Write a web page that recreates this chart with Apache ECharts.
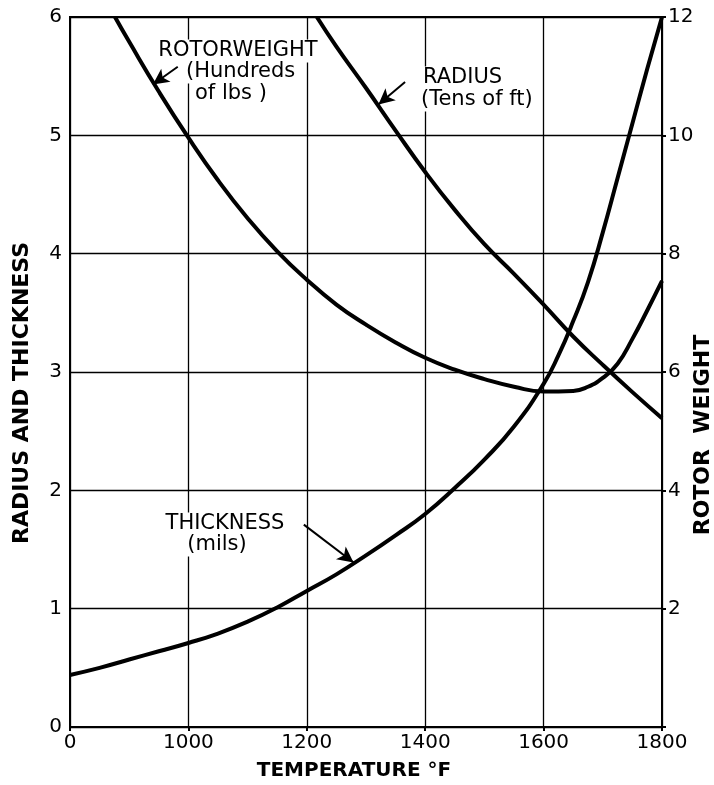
<!DOCTYPE html>
<html>
<head>
<meta charset="utf-8">
<script src="https://cdn.jsdelivr.net/npm/echarts@6/dist/echarts.min.js"></script>
<style>html,body{margin:0;padding:0;background:#fff}#c{width:714px;height:785px}</style>
</head>
<body>
<div id="c"></div>
<script>
// Temperature (°F) grid and tick labels
const xTickLabels = ['0', '1000', '1200', '1400', '1600', '1800'];
const leftTickLabels = ['0', '1', '2', '3', '4', '5', '6'];
const rightTickLabels = ['', '2', '4', '6', '8', '10', '12'];

// Thickness (mils) — left axis
const thickT = [800, 850, 900, 950, 1000, 1050, 1100, 1150, 1200, 1250, 1300, 1350, 1400, 1450, 1500, 1550, 1600, 1625, 1650, 1675, 1700, 1725, 1750, 1775, 1800];
const thickV = [0.44, 0.50, 0.57, 0.64, 0.71, 0.79, 0.89, 1.01, 1.15, 1.29, 1.45, 1.62, 1.80, 2.02, 2.26, 2.54, 2.90, 3.14, 3.43, 3.76, 4.18, 4.64, 5.10, 5.56, 6.00];

// Rotor weight (hundreds of lbs) — right axis
const rotorT = [876, 900, 950, 1000, 1050, 1100, 1150, 1200, 1250, 1300, 1350, 1400, 1450, 1500, 1550, 1600, 1650, 1675, 1700, 1725, 1750, 1775, 1800];
const rotorV = [12.0, 11.58, 10.74, 9.96, 9.24, 8.60, 8.04, 7.56, 7.14, 6.80, 6.50, 6.24, 6.04, 5.88, 5.75, 5.67, 5.68, 5.75, 5.90, 6.14, 6.56, 7.04, 7.54];

// Radius (tens of ft) — left axis
const radT = [1217, 1250, 1300, 1350, 1400, 1450, 1500, 1550, 1600, 1650, 1700, 1750, 1800];
const radV = [6.00, 5.75, 5.40, 5.04, 4.69, 4.37, 4.08, 3.83, 3.57, 3.30, 3.06, 2.83, 2.61];

// Annotation arrows: [tailT, tailV, tipT, tipV]
const rotorArrow = [982, 11.16, 940, 10.86];
const radArrow = [1366, 5.45, 1321, 5.26];
const thickArrow = [1195, 1.71, 1279, 1.39];

const zip = (a, b) => a.map((t, i) => [t, b[i]]);
const FONT = 'DejaVu Sans';

function arrowMark(a) {
  return {
    silent: true,
    symbol: ['none', 'arrow'],
    symbolSize: [12, 16],
    label: { show: false },
    lineStyle: { color: '#000', width: 2, type: 'solid' },
    itemStyle: { color: '#000' },
    emphasis: { disabled: true },
    data: [[{ coord: [a[0], a[1]] }, { coord: [a[2], a[3]] }]]
  };
}

const lineBase = {
  type: 'line',
  smooth: true,
  showSymbol: false,
  symbol: 'none',
  lineStyle: { color: '#000', width: 4 },
  z: 5
};

function label(text, x, y, size, align) {
  return {
    type: 'text', x: x, y: y, z: 20,
    style: {
      text: text, fill: '#000', font: 'normal ' + size + 'px "' + FONT + '"',
      textAlign: align || 'center', textVerticalAlign: 'middle',
      backgroundColor: '#fff', padding: [1, 3]
    }
  };
}

const chart = echarts.init(document.getElementById('c'), null, { renderer: 'canvas' });
chart.setOption({
  animation: false,
  backgroundColor: '#fff',
  grid: { left: 70, right: 52, top: 17, bottom: 58, show: true, borderColor: '#000', borderWidth: 2, backgroundColor: 'transparent' },
  xAxis: {
    type: 'value', min: 800, max: 1800, interval: 200,
    axisLine: { show: true, lineStyle: { color: '#000', width: 2 } },
    axisTick: { show: true, length: 4, lineStyle: { color: '#000', width: 2 } },
    splitLine: { show: true, lineStyle: { color: '#000', width: 1.3 } },
    axisLabel: {
      color: '#000', fontFamily: FONT, fontSize: 20, margin: 6,
      formatter: v => xTickLabels[Math.round((v - 800) / 200)]
    }
  },
  yAxis: [
    {
      type: 'value', min: 0, max: 6, interval: 1, position: 'left',
      axisLine: { show: true, lineStyle: { color: '#000', width: 2 } },
      axisTick: { show: false },
      splitLine: { show: true, lineStyle: { color: '#000', width: 1.3 } },
      axisLabel: { color: '#000', fontFamily: FONT, fontSize: 20, margin: 8, formatter: v => leftTickLabels[Math.round(v)] }
    },
    {
      type: 'value', min: 0, max: 12, interval: 2, position: 'right',
      axisLine: { show: true, lineStyle: { color: '#000', width: 2 } },
      axisTick: { show: true, length: 4, lineStyle: { color: '#000', width: 2 } },
      splitLine: { show: false },
      axisLabel: { color: '#000', fontFamily: FONT, fontSize: 20, margin: 6, formatter: v => rightTickLabels[Math.round(v / 2)] }
    }
  ],
  series: [
    Object.assign({}, lineBase, { name: 'THICKNESS', yAxisIndex: 0, data: zip(thickT, thickV), markLine: arrowMark(thickArrow) }),
    Object.assign({}, lineBase, { name: 'ROTORWEIGHT', yAxisIndex: 1, data: zip(rotorT, rotorV), markLine: arrowMark(rotorArrow) }),
    Object.assign({}, lineBase, { name: 'RADIUS', yAxisIndex: 0, data: zip(radT, radV), markLine: arrowMark(radArrow) })
  ],
  graphic: [
    label('ROTORWEIGHT', 238, 51, 21),
    label('(Hundreds', 183, 72, 21, 'left'),
    label('of lbs )', 192, 94, 21, 'left'),
    label('RADIUS', 420, 78, 21, 'left'),
    label('(Tens of ft)', 418, 100, 21, 'left'),
    label('THICKNESS', 225, 524, 21),
    label('(mils)', 217, 545, 21),
    {
      type: 'text', x: 354, y: 771, z: 20,
      style: { text: 'TEMPERATURE °F', fill: '#000', font: 'bold 20px "' + FONT + '"', textAlign: 'center', textVerticalAlign: 'middle' }
    },
    {
      type: 'text', x: 22, y: 393, rotation: Math.PI / 2, z: 20,
      style: { text: 'RADIUS AND THICKNESS', fill: '#000', font: 'bold 22px "' + FONT + '"', textAlign: 'center', textVerticalAlign: 'middle' }
    },
    {
      type: 'text', x: 703, y: 435, rotation: Math.PI / 2, z: 20,
      style: { text: 'ROTOR  WEIGHT', fill: '#000', font: 'bold 22px "' + FONT + '"', textAlign: 'center', textVerticalAlign: 'middle' }
    }
  ]
});
</script>
</body>
</html>
